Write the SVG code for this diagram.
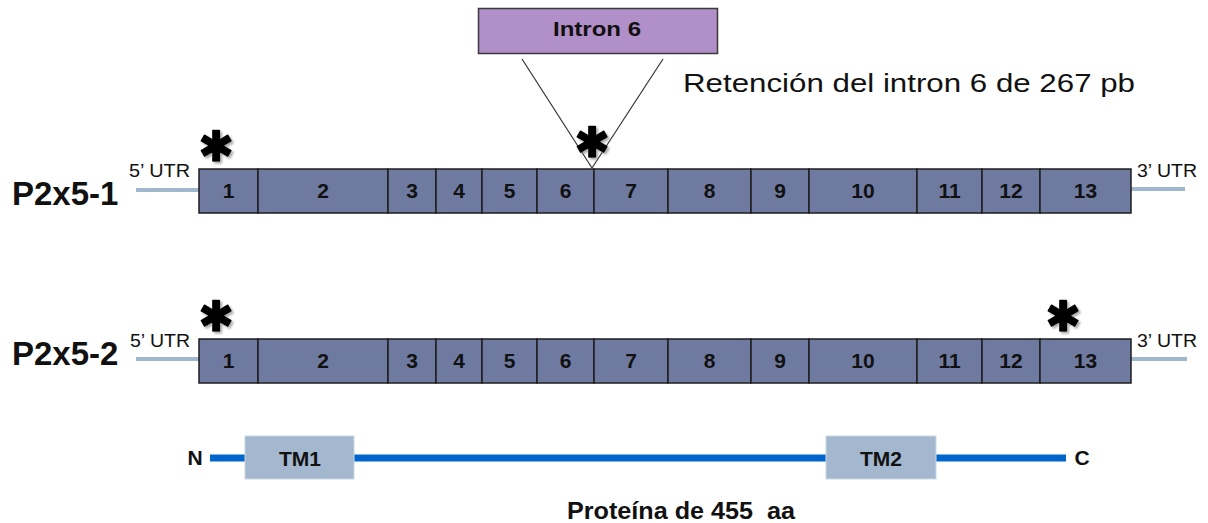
<svg xmlns="http://www.w3.org/2000/svg" width="1208" height="523" viewBox="0 0 1208 523">
<defs>
<filter id="sh" x="-50%" y="-50%" width="200%" height="200%">
<feDropShadow dx="2" dy="2" stdDeviation="1.2" flood-color="#777" flood-opacity="0.6"/>
</filter>
<style>
.ex{fill:#6f7aa1;stroke:#1e1e1e;stroke-width:1.5}
.num{font-family:"Liberation Sans",Arial,sans-serif;font-weight:bold;font-size:21px;fill:#111;text-anchor:middle}
.utr{stroke:#a0b8cc;stroke-width:4}
.utrt{font-family:"Liberation Sans",Arial,sans-serif;font-size:18px;fill:#111}
.name{font-family:"Liberation Sans",Arial,sans-serif;font-weight:bold;font-size:33px;fill:#111}
.ast{font-family:"DejaVu Sans",sans-serif;font-weight:bold;font-size:42px;fill:#000;stroke:#000;stroke-width:1.4;stroke-linejoin:round;text-anchor:middle;filter:url(#sh)}
.tm{fill:#a3b8cf;stroke:#c9d6e4;stroke-width:1}
.tmt{font-family:"Liberation Sans",Arial,sans-serif;font-weight:bold;font-size:21px;fill:#111;text-anchor:middle}
.prot{stroke:#0066cc;stroke-width:7}
.v{stroke:#333;stroke-width:1.2;fill:none}
</style>
</defs>
<rect width="1208" height="523" fill="#fff"/>

<g id="connectors">
<line class="v" x1="522" y1="59" x2="592" y2="168"/>
<line class="v" x1="663" y1="59" x2="592" y2="168"/>
<line class="prot" x1="210" y1="458" x2="246" y2="458"/>
<line class="prot" x1="354" y1="458" x2="826" y2="458"/>
<line class="prot" x1="936" y1="458" x2="1066" y2="458"/>
</g>

<g id="intron6">
<rect x="478.5" y="8.5" width="239" height="45" fill="#b18fc8" stroke="#3a3a3a" stroke-width="1.5"/>
<text x="597" y="36" class="num" textLength="88" lengthAdjust="spacingAndGlyphs">Intron 6</text>
</g>
<text id="retencion" x="683" y="92" font-family="'Liberation Sans',Arial,sans-serif" font-size="26" fill="#111" textLength="452" lengthAdjust="spacingAndGlyphs">Retención del intron 6 de 267 pb</text>

<g id="row1">
<text class="name" x="12" y="205">P2x5-1</text>
<line class="utr" x1="136" y1="190" x2="199" y2="190"/>
<text class="utrt" x="129" y="177" textLength="61" lengthAdjust="spacingAndGlyphs">5’ UTR</text>
<line class="utr" x1="1131" y1="189" x2="1185" y2="189"/>
<text class="utrt" x="1137" y="177" textLength="60" lengthAdjust="spacingAndGlyphs">3’ UTR</text>
<g id="r1e1"><rect class="ex" x="199" y="169" width="59" height="44"/><text class="num" x="228.5" y="198">1</text></g>
<g id="r1e2"><rect class="ex" x="258" y="169" width="130" height="44"/><text class="num" x="323" y="198">2</text></g>
<g id="r1e3"><rect class="ex" x="388" y="169" width="48" height="44"/><text class="num" x="412" y="198">3</text></g>
<g id="r1e4"><rect class="ex" x="436" y="169" width="46" height="44"/><text class="num" x="459" y="198">4</text></g>
<g id="r1e5"><rect class="ex" x="482" y="169" width="55" height="44"/><text class="num" x="509.5" y="198">5</text></g>
<g id="r1e6"><rect class="ex" x="537" y="169" width="57" height="44"/><text class="num" x="565.5" y="198">6</text></g>
<g id="r1e7"><rect class="ex" x="594" y="169" width="74" height="44"/><text class="num" x="631" y="198">7</text></g>
<g id="r1e8"><rect class="ex" x="668" y="169" width="83" height="44"/><text class="num" x="709.5" y="198">8</text></g>
<g id="r1e9"><rect class="ex" x="751" y="169" width="58" height="44"/><text class="num" x="780" y="198">9</text></g>
<g id="r1e10"><rect class="ex" x="809" y="169" width="108" height="44"/><text class="num" x="863" y="198">10</text></g>
<g id="r1e11"><rect class="ex" x="917" y="169" width="65" height="44"/><text class="num" x="949.5" y="198">11</text></g>
<g id="r1e12"><rect class="ex" x="982" y="169" width="58" height="44"/><text class="num" x="1011" y="198">12</text></g>
<g id="r1e13"><rect class="ex" x="1040" y="169" width="91" height="44"/><text class="num" x="1085.5" y="198">13</text></g>
<text class="ast" x="216" y="161">✱</text>
<text class="ast" x="592" y="157">✱</text>
</g>

<g id="row2">
<text class="name" x="12" y="365">P2x5-2</text>
<line class="utr" x1="136" y1="359" x2="199" y2="359"/>
<text class="utrt" x="130" y="347" textLength="60" lengthAdjust="spacingAndGlyphs">5’ UTR</text>
<line class="utr" x1="1131" y1="359" x2="1187" y2="359"/>
<text class="utrt" x="1137" y="347" textLength="60" lengthAdjust="spacingAndGlyphs">3’ UTR</text>
<g id="r2e1"><rect class="ex" x="199" y="339" width="59" height="44"/><text class="num" x="228.5" y="368">1</text></g>
<g id="r2e2"><rect class="ex" x="258" y="339" width="130" height="44"/><text class="num" x="323" y="368">2</text></g>
<g id="r2e3"><rect class="ex" x="388" y="339" width="48" height="44"/><text class="num" x="412" y="368">3</text></g>
<g id="r2e4"><rect class="ex" x="436" y="339" width="46" height="44"/><text class="num" x="459" y="368">4</text></g>
<g id="r2e5"><rect class="ex" x="482" y="339" width="55" height="44"/><text class="num" x="509.5" y="368">5</text></g>
<g id="r2e6"><rect class="ex" x="537" y="339" width="57" height="44"/><text class="num" x="565.5" y="368">6</text></g>
<g id="r2e7"><rect class="ex" x="594" y="339" width="74" height="44"/><text class="num" x="631" y="368">7</text></g>
<g id="r2e8"><rect class="ex" x="668" y="339" width="83" height="44"/><text class="num" x="709.5" y="368">8</text></g>
<g id="r2e9"><rect class="ex" x="751" y="339" width="58" height="44"/><text class="num" x="780" y="368">9</text></g>
<g id="r2e10"><rect class="ex" x="809" y="339" width="108" height="44"/><text class="num" x="863" y="368">10</text></g>
<g id="r2e11"><rect class="ex" x="917" y="339" width="65" height="44"/><text class="num" x="949.5" y="368">11</text></g>
<g id="r2e12"><rect class="ex" x="982" y="339" width="58" height="44"/><text class="num" x="1011" y="368">12</text></g>
<g id="r2e13"><rect class="ex" x="1040" y="339" width="91" height="44"/><text class="num" x="1085.5" y="368">13</text></g>
<text class="ast" x="216" y="331">✱</text>
<text class="ast" x="1063" y="331">✱</text>
</g>

<g id="protein">
<text class="tmt" x="195" y="465">N</text>
<g id="tm1"><rect class="tm" x="245" y="436" width="109" height="43"/><text class="tmt" x="300" y="466">TM1</text></g>
<g id="tm2"><rect class="tm" x="826" y="436" width="110" height="43"/><text class="tmt" x="881" y="466">TM2</text></g>
<text class="tmt" x="1082" y="465">C</text>
<text x="567" y="519" font-family="'Liberation Sans',Arial,sans-serif" font-weight="bold" font-size="24" fill="#111" textLength="228" lengthAdjust="spacingAndGlyphs" xml:space="preserve">Proteína de 455  aa</text>
</g>
</svg>
